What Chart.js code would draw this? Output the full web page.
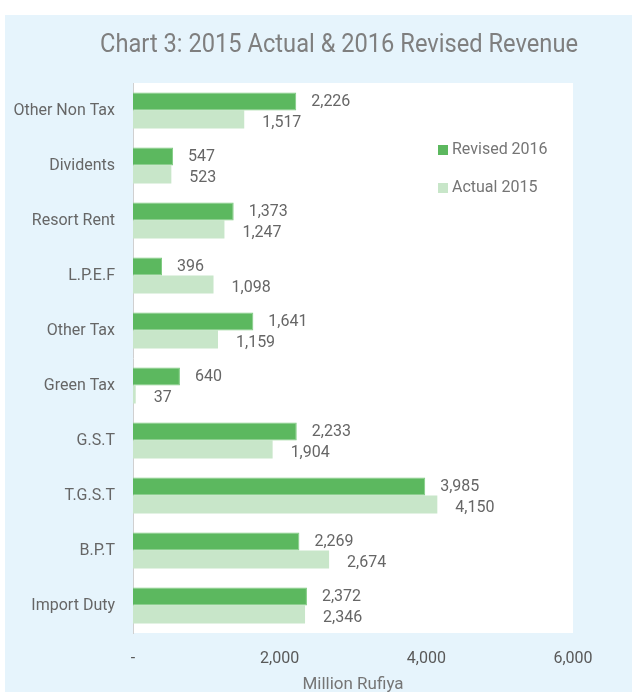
<!DOCTYPE html>
<html>
<head>
<meta charset="utf-8">
<script src="https://cdn.jsdelivr.net/npm/chart.js@4.4.1/dist/chart.umd.min.js"></script>
<style>
  html, body { margin: 0; padding: 0; background: #fff; overflow: hidden; }
  #wrap { position: absolute; left: 5px; top: 15px; width: 627px; height: 700px; background: #E6F4FC; }
</style>
</head>
<body>
<div id="wrap"><canvas id="chart" width="627" height="700"></canvas></div>
<script>
const categories = ['Other Non Tax', 'Dividents', 'Resort Rent', 'L.P.E.F', 'Other Tax',
  'Green Tax', 'G.S.T', 'T.G.S.T', 'B.P.T', 'Import Duty'];
const revised2016 = [2226, 547, 1373, 396, 1641, 640, 2233, 3985, 2269, 2372];
const actual2015 = [1517, 523, 1247, 1098, 1159, 37, 1904, 4150, 2674, 2346];
const xTicks = [0, 2000, 4000, 6000];

const titleText = 'Chart 3: 2015 Actual & 2016 Revised Revenue';
const fmt = v => v === 0 ? '-' : v.toLocaleString('en-US');

// white plot area, title, legend and value labels
const decor = {
  id: 'decor',
  beforeDraw(chart) {
    const { ctx, chartArea: a } = chart;
    ctx.save();
    ctx.fillStyle = '#ffffff';
    ctx.fillRect(a.left, a.top, a.right - a.left, a.bottom - a.top);
    // title, squeezed to the width seen in the picture
    ctx.font = '26px Roboto';
    ctx.fillStyle = '#7f7f7f';
    ctx.textBaseline = 'middle';
    const w = ctx.measureText(titleText).width;
    ctx.translate(334, 30);
    ctx.scale(478 / w, 1);
    ctx.textAlign = 'center';
    ctx.fillText(titleText, 0, 0);
    ctx.restore();
  },
  afterDatasetsDraw(chart) {
    const { ctx } = chart;
    ctx.save();
    ctx.font = '16px Roboto';
    ctx.fillStyle = '#666';
    ctx.textAlign = 'left';
    ctx.textBaseline = 'middle';
    chart.data.datasets.forEach((ds, i) => {
      chart.getDatasetMeta(i).data.forEach((el, j) => {
        ctx.fillText(fmt(ds.data[j]), el.x + 15 + i * 3, el.y + 1 + i * 2);
      });
    });
    // legend
    chart.data.datasets.forEach((ds, i) => {
      const y = 130 + i * 38;
      ctx.fillStyle = ds.backgroundColor;
      ctx.fillRect(433, y, 10, 10);
      ctx.fillStyle = '#757575';
      ctx.fillText(ds.label, 447, y + 5);
    });
    ctx.restore();
  }
};

new Chart(document.getElementById('chart'), {
  type: 'bar',
  data: {
    labels: categories,
    datasets: [
      { label: 'Revised 2016', data: revised2016, backgroundColor: '#5CB85F',
        borderColor: '#7fcb81', borderWidth: 1, categoryPercentage: 0.655, barPercentage: 1 },
      { label: 'Actual 2015', data: actual2015, backgroundColor: '#C8E6C9',
        borderWidth: 0, categoryPercentage: 0.655, barPercentage: 1 }
    ]
  },
  options: {
    indexAxis: 'y',
    responsive: false,
    animation: false,
    devicePixelRatio: 1,
    layout: { padding: { top: 68, right: 59, left: 0, bottom: 0 } },
    plugins: { legend: { display: false }, title: { display: false }, tooltip: { enabled: false } },
    scales: {
      y: {
        grid: { display: false },
        border: { display: true, color: '#d0d0d0', width: 1 },
        ticks: { color: '#666', font: { family: 'Roboto', size: 16 }, padding: 10 },
        afterFit(s) { s.width = 128; }
      },
      x: {
        min: 0, max: 6000,
        grid: { display: false },
        border: { display: false },
        afterBuildTicks(s) { s.ticks = xTicks.map(v => ({ value: v })); },
        ticks: { color: '#595959', font: { family: 'Roboto', size: 16 }, padding: 8,
          callback: v => fmt(v) },
        title: { display: true, text: 'Million Rufiya', color: '#757575',
          font: { family: 'Roboto', size: 17 }, padding: { top: 0, bottom: 20 } },
        afterFit(s) { s.height = 82; }
      }
    }
  },
  plugins: [decor]
});
</script>
</body>
</html>
